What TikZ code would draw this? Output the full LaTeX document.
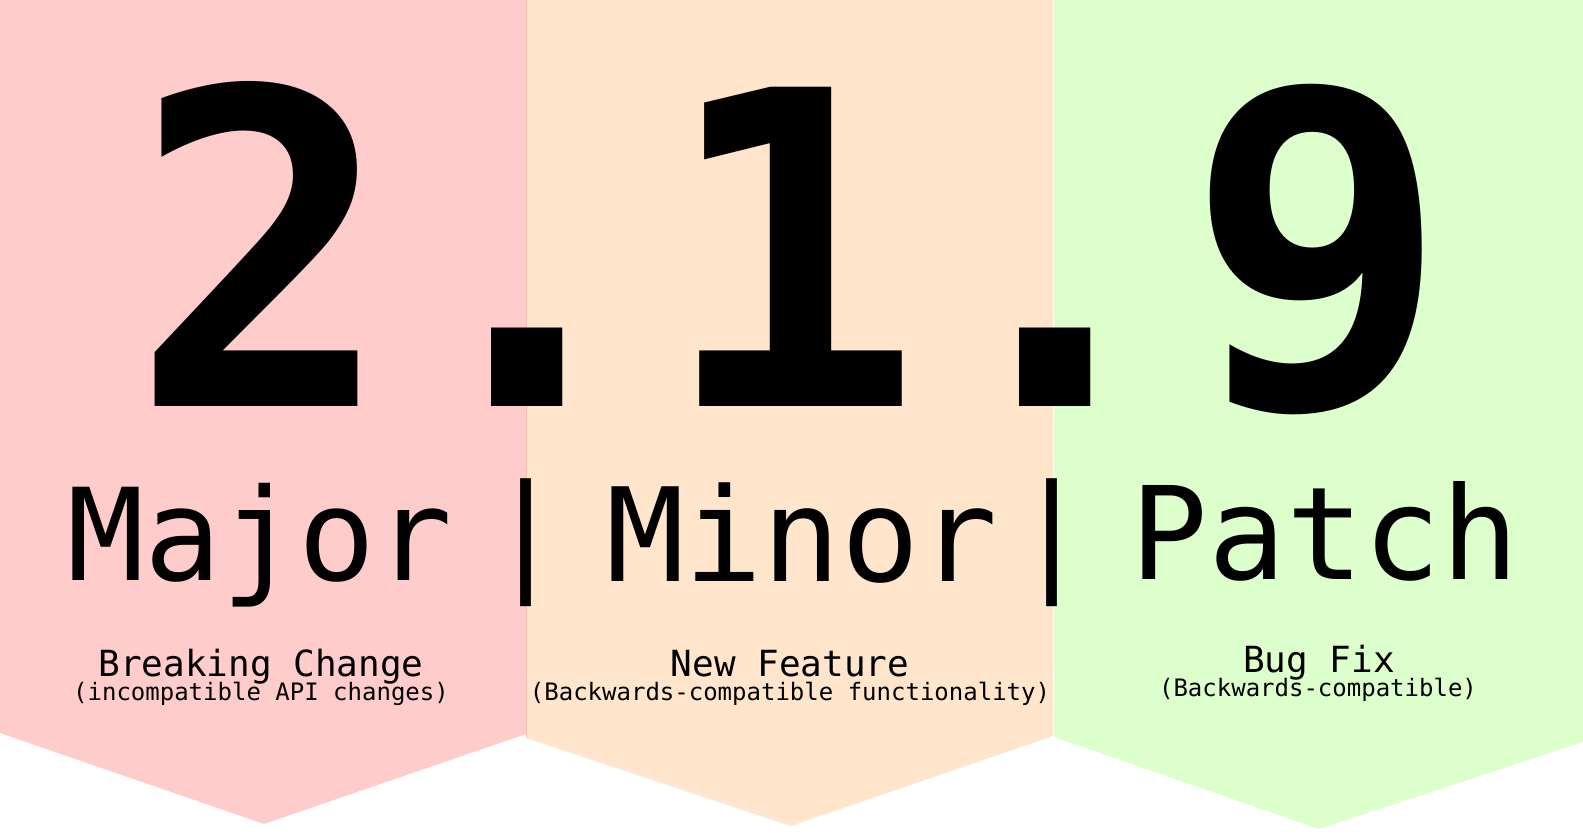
\documentclass[tikz,border=0pt]{standalone}
\usepackage{fontspec}
\newfontfamily\bannermono{DejaVu Sans Mono}
\definecolor{majorred}{RGB}{255,204,204}
\definecolor{minororange}{RGB}{255,229,204}
\definecolor{patchgreen}{RGB}{221,255,204}
\definecolor{seamline}{RGB}{255,190,170}

\begin{document}
\begin{tikzpicture}[x=1pt, y=-1pt,
    bigdigit/.style={font=\bannermono\bfseries\fontsize{438}{438}\selectfont,
                     anchor=base, inner sep=0pt},
    bigword/.style={font=\bannermono\fontsize{#1}{#1}\selectfont,
                    anchor=base, inner sep=0pt},
    subtitle/.style={font=\bannermono\fontsize{36}{36}\selectfont,
                     anchor=base, inner sep=0pt},
    subnote/.style={font=\bannermono\fontsize{24}{24}\selectfont,
                    anchor=base, inner sep=0pt}]
    \useasboundingbox (0,0) rectangle (1583,840);
    % banners
    \fill[majorred]    (0,0) -- (526,0) -- (526,734) -- (264,824) -- (0,733) -- cycle;
    \fill[minororange] (526,0) -- (1053,0) -- (1053,736) -- (791,826) -- (526,738) -- cycle;
    \fill[patchgreen]  (1054,0) -- (1583,0) -- (1583,742) -- (1319,829) -- (1054,737) -- cycle;
    \draw[seamline, line width=0.8pt] (526,0) -- (526,738);
    % version number
    \node[bigdigit] (majornum) at (262,406)  {2};
    \node[bigdigit] (dotone)   at (527,406)  {.};
    \node[bigdigit] (minornum) at (791,406)  {1};
    \node[bigdigit] (dottwo)   at (1055,406) {.};
    \node[bigdigit] (patchnum) at (1318,406) {9};
    % part names
    \node[bigword=128] (major) at (260,580)  {Major};
    \node[bigword=128] (pipeone) at (526,576) {|};
    \node[bigword=130] (minor) at (802,581)  {Minor};
    \node[bigword=128] (pipetwo) at (1052,576) {|};
    \node[bigword=129] (patch) at (1325,579) {Patch};
    % meaning of each part
    \node[subtitle] (breaking) at (261,676) {Breaking Change};
    \node[subnote]  (breaknote) at (261,700) {(incompatible API changes)};
    \node[subtitle] (feature) at (790,676) {New Feature};
    \node[subnote]  (featnote) at (790,700) {(Backwards-compatible functionality)};
    \node[subtitle] (bugfix) at (1319,672) {Bug Fix};
    \node[subnote]  (fixnote) at (1318,696) {(Backwards-compatible)};
  \end{tikzpicture}
\end{document}
